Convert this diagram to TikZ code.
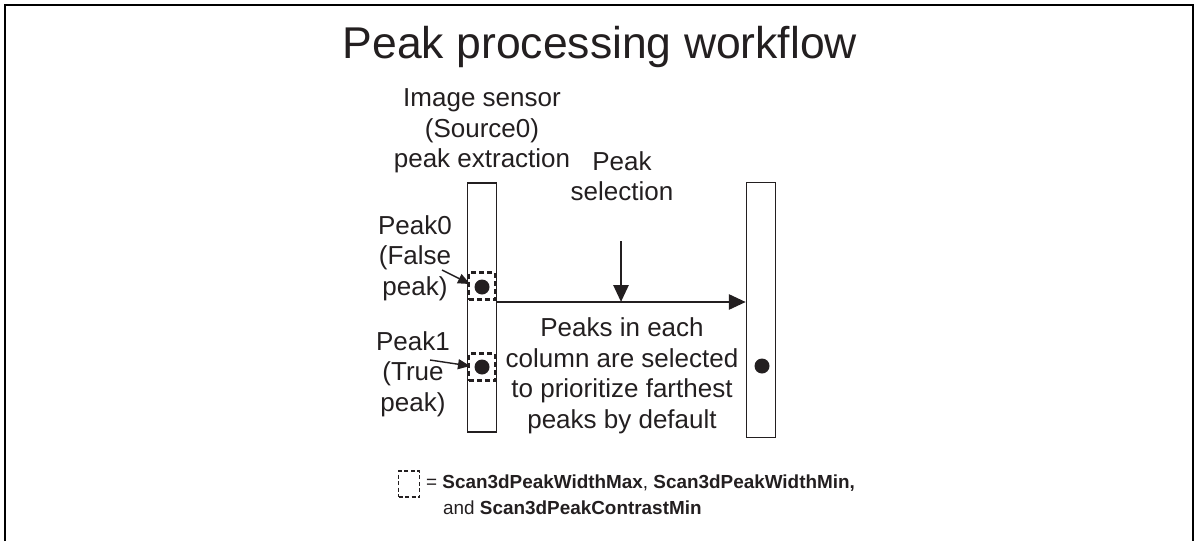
\documentclass[tikz,border=0pt]{standalone}
\usepackage{fontspec}
\setmainfont{Liberation Sans}
\usetikzlibrary{arrows.meta}
\definecolor{ink}{HTML}{231F20}
\begin{document}
\begin{tikzpicture}[x=1pt,y=-1pt,
  txt/.style={text=ink,align=center,inner sep=0pt,font=\fontsize{26}{30.5}\selectfont},
  bar/.style={draw=ink,line width=1.4pt,minimum width=29pt,inner sep=0pt},
  dot/.style={circle,fill=ink,minimum size=15pt,inner sep=0pt},
  dbox/.style={draw=ink,dashed,dash pattern=on 5pt off 3pt,line width=2.3pt,minimum width=26pt,minimum height=27pt,inner sep=0pt},
  bigarrow/.style={draw=ink,line width=2.8pt,-{Triangle[length=17pt,width=15pt]}},
  smallarrow/.style={draw=ink,line width=1.4pt,-{Triangle[length=12pt,width=10pt]}},
  frame/.style={draw=black,line width=2pt}]
\useasboundingbox (0,0) rectangle (1199,541);
\draw[frame] (5,541) -- (5,5) -- (1193,5) -- (1193,541);

\node[text=ink,inner sep=0pt,font=\fontsize{44.5}{50}\selectfont] (title) at (600,47) {Peak processing workflow};

\node[bar,minimum height=249pt] (bar1) at (482,307.5) {};
\node[bar,minimum height=255pt] (bar2) at (761,310) {};

\node[txt] (src) at (482,131) {Image sensor\\(Source0)\\peak extraction};

\node[dbox] (box0) at (482,286) {};
\node[dot] (dot0) at (482,287) {};
\node[dbox] (box1) at (482,367) {};
\node[dot] (dot1) at (482,367) {};
\node[dot] (dot2) at (762,366) {};

\node[txt] (p0) at (415,258) {Peak0\\(False\\peak)};
\node[txt] (p1) at (413,374) {Peak1\\(True\\peak)};

\coordinate (a0s) at (442,270);
\coordinate (a0e) at (470,284);
\coordinate (a1s) at (430,360);
\coordinate (a1e) at (470,366);
\draw[smallarrow] (a0s) -- (a0e);
\draw[smallarrow] (a1s) -- (a1e);

\node[txt] (sel) at (622,176) {Peak\\selection};
\coordinate (hs) at (bar1.east |- 0,302);
\coordinate (he) at (bar2.west |- 0,302);
\coordinate (mid) at (621,302);
\coordinate (vtop) at (621,241);
\draw[bigarrow] (vtop) -- (mid);
\draw[bigarrow] (hs) -- (he);

\node[txt] (desc) at (622,376) {Peaks in each\\column are selected\\to prioritize farthest\\peaks by default};

\node[dbox,minimum width=21pt,minimum height=26pt,line width=1.8pt,dash pattern=on 4pt off 2.5pt] (lbox) at (409,484) {};
\node[text=ink,anchor=west,inner sep=0pt,font=\fontsize{18.9}{22}\selectfont] (leg1) at (426,483) {= \textbf{Scan3dPeakWidthMax}, \textbf{Scan3dPeakWidthMin,}};
\node[text=ink,anchor=west,inner sep=0pt,font=\fontsize{18.9}{22}\selectfont] (leg2) at (443,508) {and \textbf{Scan3dPeakContrastMin}};
\end{tikzpicture}
\end{document}
